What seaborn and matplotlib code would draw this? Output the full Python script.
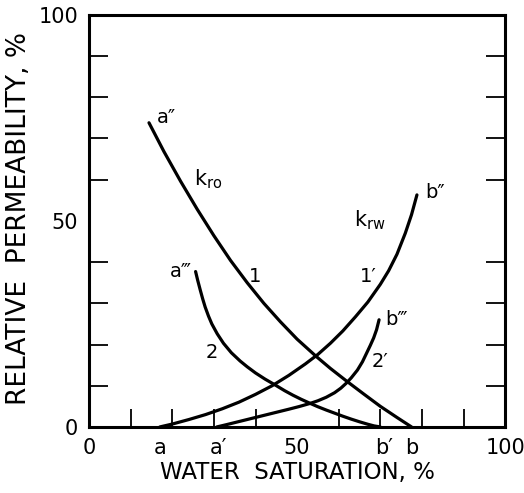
import matplotlib
matplotlib.use("Agg")
import matplotlib.pyplot as plt
import seaborn as sns
import pandas as pd

# ---- data ----
sw_kro1 = [14.4, 18, 22, 26, 30, 34, 38, 42, 46, 50, 54.6, 58, 61.8, 66, 70, 74, 77.5]
kro1 = [73.8, 66.8, 59.6, 52.8, 46.4, 40.4, 35.0, 30.0, 25.5, 21.3, 17.1, 14.2, 11.2, 8.0, 5.0, 2.3, 0]

sw_krw1 = [17, 20, 24, 28, 32, 36, 40, 44, 48, 52, 55, 58, 61, 64, 67, 70, 72, 74, 76, 77.5, 78.8]
krw1 = [0, 0.7, 1.8, 3.0, 4.4, 6.0, 7.9, 10.0, 12.5, 15.3, 17.6, 20.3, 23.3, 26.7, 30.3, 34.6, 37.9, 41.9, 47.0, 51.5, 56.3]

sw_kro2 = [25.6, 26.1, 26.7, 27.3, 27.9, 28.7, 29.5, 30.8, 32.3, 34.2, 36.3, 38, 40, 42.3,
           44.7, 47, 49, 51, 53.4, 55, 57, 59, 61, 63, 65, 67, 68.5, 70]
kro2 = [37.7, 35.6, 33.3, 31.1, 29.1, 26.9, 25.0, 22.6, 20.3, 18.0, 16.0, 14.6, 13.1, 11.6,
        10.2, 8.8, 7.7, 6.7, 5.6, 4.9, 4.1, 3.35, 2.6, 1.9, 1.25, 0.65, 0.25, 0]

sw_krw2 = [30.7, 33, 36, 39, 42, 45, 48, 50.5, 53.1, 55, 57, 59, 60.5, 61.8, 63, 64.5,
           65.7, 66.7, 67.6, 68.4, 69.1, 69.7]
krw2 = [0, 0.55, 1.3, 2.05, 2.8, 3.55, 4.3, 4.95, 5.7, 6.35, 7.2, 8.3, 9.4, 10.6, 11.9, 13.8,
        15.8, 17.9, 19.8, 21.6, 23.6, 26.0]

x_label_pos = [0, 17, 31, 50, 71, 77.5, 100]
x_label_txt = ["0", "a", "a\u2032", "50", "b\u2032", "b", "100"]
y_label_pos = [0, 50, 100]
y_label_txt = ["0", "50", "100"]

curve_labels = ["a\u2033", "a\u2034", "1", "2", "b\u2033", "b\u2034", "1\u2032", "2\u2032"]
curve_label_x = [18.5, 22, 39.9, 29.5, 83.2, 73.8, 67, 70]
curve_label_y = [75, 37.8, 36.4, 18, 56.8, 26, 36.4, 15.8]

# ---- style ----
sns.set_style("ticks")
plt.rcParams['font.family'] = ['DejaVu Sans']
plt.rcParams['mathtext.fontset'] = 'dejavusans'
for k in ['text.color', 'axes.labelcolor', 'xtick.color', 'ytick.color', 'axes.edgecolor']:
    plt.rcParams[k] = 'black'

fig = plt.figure(figsize=(5.24, 4.93), dpi=100)
ax = fig.add_axes([0.170, 0.134, 0.794, 0.836])

lw = 2.3
for xs, ys in [(sw_kro1, kro1), (sw_krw1, krw1), (sw_kro2, kro2), (sw_krw2, krw2)]:
    df = pd.DataFrame({"Sw": xs, "kr": ys})
    sns.lineplot(data=df, x="Sw", y="kr", ax=ax, color="black", lw=lw,
                 sort=False, estimator=None)

ax.set_xlim(0, 100)
ax.set_ylim(0, 100)

# minor ticks: every 10, drawn inward; major ticks only carry the labels
ax.set_xticks(x_label_pos)
ax.set_xticklabels(x_label_txt)
ax.set_yticks(y_label_pos)
ax.set_yticklabels(y_label_txt)
ax.set_xticks(list(range(10, 100, 10)), minor=True)
ax.set_yticks(list(range(10, 100, 10)), minor=True)
ax.tick_params(axis="x", which="major", length=0, labelsize=15, pad=8)
ax.tick_params(axis="y", which="major", length=0, labelsize=15, pad=8)
ax.tick_params(axis="x", which="minor", direction="in", length=13, width=1.3)
ax.tick_params(axis="y", which="minor", direction="in", length=14, width=1.3,
               left=True, right=True)

for s in ax.spines.values():
    s.set_linewidth(2.2)
    s.set_color("black")

ax.set_xlabel("WATER  SATURATION, %", fontsize=16.5, labelpad=2)
ax.set_ylabel("RELATIVE  PERMEABILITY, %", fontsize=19)
ax.yaxis.set_label_coords(-0.137, 0.505)

for t, x, y in zip(curve_labels, curve_label_x, curve_label_y):
    ax.text(x, y, t, fontsize=14, ha="center", va="center")

ax.text(28.6, 60, r"k$_{\mathregular{ro}}$", fontsize=15, ha="center", va="center")
ax.text(67.5, 50.2, r"k$_{\mathregular{rw}}$", fontsize=15, ha="center", va="center")

fig.savefig("out.png", dpi=100, facecolor="white")
